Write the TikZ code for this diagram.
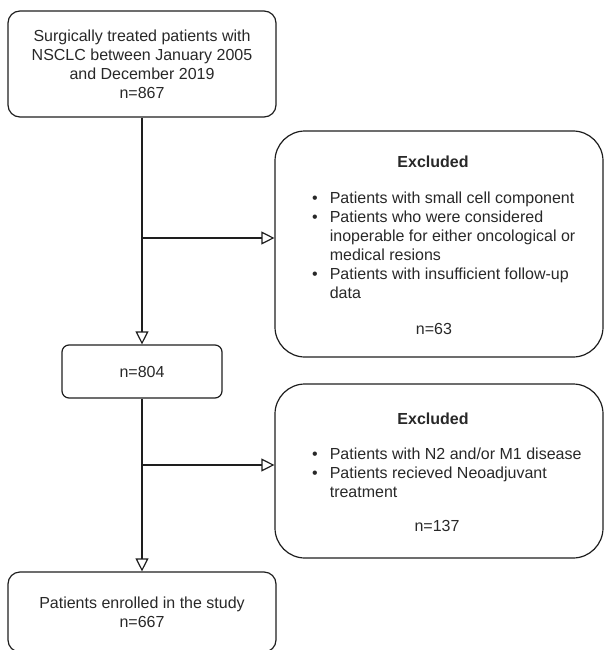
\documentclass[tikz,border=0pt]{standalone}
\usepackage{fontspec}
\setmainfont{Liberation Sans}
\usetikzlibrary{arrows.meta}
\definecolor{txt}{RGB}{40,40,40}
\definecolor{ln}{RGB}{30,30,30}
\begin{document}
\begin{tikzpicture}[x=1pt,y=-1pt,
  box/.style={draw=ln, line width=1.2pt, inner sep=0pt, text=txt, align=center, font=\fontsize{16}{19}\selectfont},
  lbl/.style={inner sep=0pt, text=txt, font=\fontsize{16}{19}\selectfont},
  arr/.style={draw=ln, line width=1.2pt, -{Triangle[open, length=13pt, width=13pt]}}]
\useasboundingbox (0,0) rectangle (604,650);
\clip (0,0) rectangle (604,650);
% boxes
\node[box, rounded corners=12pt, minimum width=268pt, minimum height=106pt] (start) at (142,64)
  {Surgically treated patients with\\NSCLC between January 2005\\and December 2019\\n=867};
\node[box, rounded corners=30pt, minimum width=328pt, minimum height=226pt] (exc1) at (439,244) {};
\node[box, rounded corners=7pt, minimum width=160pt, minimum height=53pt] (n804) at (142,371.5) {n=804};
\node[box, rounded corners=30pt, minimum width=328pt, minimum height=174pt] (exc2) at (439,471) {};
\node[box, rounded corners=12pt, minimum width=268pt, minimum height=80pt] (final) at (142,612)
  {Patients enrolled in the study\\n=667};
% texts of excluded boxes
\node[lbl, anchor=base] (e1t) at (433,167) {\bfseries Excluded};
\node[lbl, anchor=base west] (e1l) at (312,203) {\begin{tabular}[t]{@{}l@{\hspace{12pt}}l@{}}
  • & Patients with small cell component\\
  • & Patients who were considered\\
    & inoperable for either oncological or\\
    & medical resions\\
  • & Patients with insufficient follow-up\\
    & data
  \end{tabular}};
\node[lbl, anchor=base] (e1n) at (434,334) {n=63};
\node[lbl, anchor=base] (e2t) at (433,424) {\bfseries Excluded};
\node[lbl, anchor=base west] (e2l) at (312,459) {\begin{tabular}[t]{@{}l@{\hspace{12pt}}l@{}}
  • & Patients with N2 and/or M1 disease\\
  • & Patients recieved Neoadjuvant\\
    & treatment
  \end{tabular}};
\node[lbl, anchor=base] (e2n) at (437,531) {n=137};
% connectors
\draw[arr] (start.south) -- (n804.north);
\coordinate (b1) at (142,238);
\draw[arr] (b1) -- (b1 -| exc1.west);
\draw[arr] (n804.south) -- (final.north);
\coordinate (b2) at (142,465);
\draw[arr] (b2) -- (b2 -| exc2.west);
\end{tikzpicture}
\end{document}
